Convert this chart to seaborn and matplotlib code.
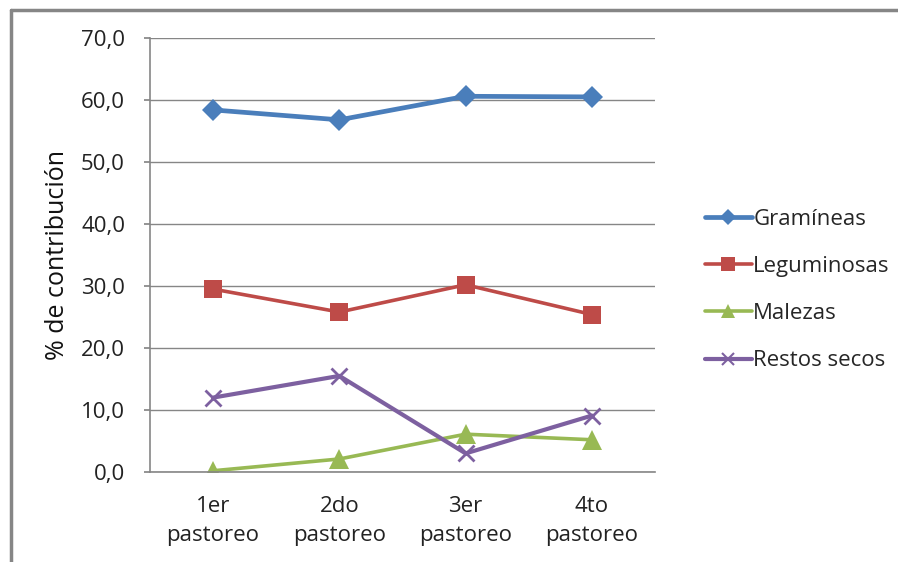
import matplotlib
matplotlib.use("Agg")
import matplotlib.pyplot as plt
from matplotlib.lines import Line2D
import seaborn as sns
import pandas as pd

# Contribution (%) of each component across the four grazing cycles
categorias = ["1er\npastoreo", "2do\npastoreo", "3er\npastoreo", "4to\npastoreo"]
gramineas = [58.4, 56.8, 60.6, 60.5]
leguminosas = [29.5, 25.8, 30.2, 25.4]
malezas = [0.2, 2.1, 6.1, 5.2]
restos_secos = [12.0, 15.5, 3.0, 9.1]

series = {
    "Gramíneas": gramineas,
    "Leguminosas": leguminosas,
    "Malezas": malezas,
    "Restos secos": restos_secos,
}
colores = {
    "Gramíneas": "#4A7EBB",
    "Leguminosas": "#BE4B48",
    "Malezas": "#98B954",
    "Restos secos": "#7D60A0",
}
marcadores = {"Gramíneas": "D", "Leguminosas": "s", "Malezas": "^", "Restos secos": "x"}
tam_marcador = {"Gramíneas": 11, "Leguminosas": 13, "Malezas": 14, "Restos secos": 12}
grosor = {"Gramíneas": 3.4, "Leguminosas": 2.6, "Malezas": 2.6, "Restos secos": 3.0}

sns.set_theme(style="white")
plt.rcParams["font.family"] = ["Open Sans", "DejaVu Sans"]

fig = plt.figure(figsize=(8.98, 5.62), dpi=100)
ax = fig.add_axes([150 / 898, 90 / 562, 505 / 898, 434 / 562])

x = list(range(len(categorias)))
for nombre, valores in series.items():
    df = pd.DataFrame({"x": x, "y": valores})
    sns.lineplot(
        data=df, x="x", y="y", ax=ax, color=colores[nombre],
        linewidth=grosor[nombre], marker=marcadores[nombre],
        markersize=tam_marcador[nombre], markeredgewidth=2 if nombre == "Restos secos" else 0,
        markeredgecolor=colores[nombre], label=nombre, legend=False,
    )

ax.set_xlim(-0.5, 3.5)
ax.set_ylim(0, 70)
ax.set_yticks(range(0, 71, 10))
ax.set_yticklabels([f"{v},0" for v in range(0, 71, 10)])
ax.set_xticks(x)
ax.set_xticklabels(categorias, linespacing=1.55)
ax.grid(axis="y", color="#868686", linewidth=1)
ax.set_axisbelow(True)
for lado in ["top", "right"]:
    ax.spines[lado].set_visible(False)
for lado in ["left", "bottom"]:
    ax.spines[lado].set_color("#868686")
    ax.spines[lado].set_linewidth(1.2)
ax.tick_params(axis="y", which="both", left=True, length=4, color="#868686",
               labelsize=16, pad=14, labelcolor="#222222")
ax.tick_params(axis="x", bottom=False, labelsize=16, pad=11, labelcolor="#222222")
ax.set_xlabel("")
ax.set_ylabel("% de contribución", fontsize=18, labelpad=8, color="#111111")

handles = [
    Line2D([0], [0], color=colores[n], lw=grosor[n], marker=marcadores[n],
           markersize=tam_marcador[n] * 0.75,
           markeredgewidth=1.5 if n == "Restos secos" else 0,
           markeredgecolor=colores[n])
    for n in series
]
fig.legend(handles, list(series.keys()), loc="center left",
           bbox_to_anchor=(696 / 898, 1 - 290 / 562), frameon=False,
           fontsize=16, handlelength=2.1, handletextpad=0.08,
           labelspacing=1.18, borderaxespad=0)

# Chart-area frame along the top and left edges
fig.add_artist(Line2D([11 / 898, 11 / 898], [0, 1 - 10 / 562], transform=fig.transFigure,
                      color="#868686", lw=2.5))
fig.add_artist(Line2D([11 / 898, 1], [1 - 10 / 562, 1 - 10 / 562], transform=fig.transFigure,
                      color="#868686", lw=2.5))

fig.savefig("out.png", dpi=100)
